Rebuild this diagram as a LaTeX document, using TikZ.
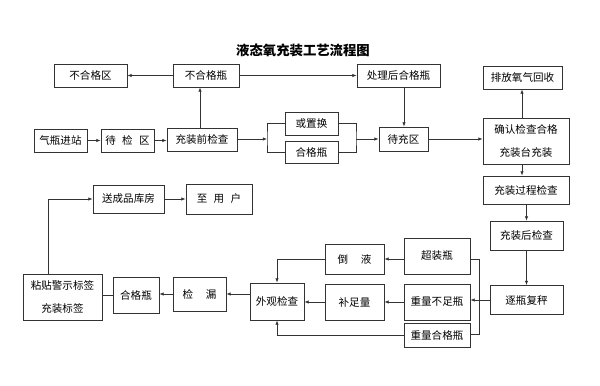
\documentclass[tikz,border=0pt]{standalone}
\usepackage{fontspec}
\newfontfamily\cjk{Noto Sans CJK SC}
\usetikzlibrary{arrows.meta,positioning}

\begin{document}
\begin{tikzpicture}[x=0.025cm, y=-0.025cm,
    box/.style={draw=black!80, line width=0.6pt, minimum width=1.325cm, minimum height=0.575cm, inner sep=1pt, align=center, font=\cjk\fontsize{7.5}{9}\selectfont},
    arr/.style={-{Latex[length=3pt, width=2.4pt]}, line width=0.5pt, black!80},
    ln/.style={line width=0.5pt, black!80},
    ttl/.style={font=\cjk\bfseries\fontsize{9.5}{11}\selectfont}
]
\useasboundingbox (0,0) rectangle (600,386);
\node[ttl] (title) at (303,50) {液态氧充装工艺流程图};

% top row
\node[box, minimum width=1.825cm] (nghq) at (90.5,75.5) {不合格区};
\node[box, minimum width=1.65cm] (nghp) at (206,75.5) {不合格瓶};
\node[box, minimum width=2.075cm] (clh) at (398.5,75.5) {处理后合格瓶};
\node[box, minimum width=1.975cm] (pf) at (522.5,77.5) {排放氧气回收};

% second row
\node[box] (jz) at (60.5,140.5) {气瓶进站};
\node[box] (djq) at (127.5,140.5) {待\hspace{0.6em}检\hspace{0.6em}区};
\node[box, minimum width=1.75cm] (cqj) at (202,139.5) {充装前检查};
\node[box] (hzh) at (311.5,123.5) {或置换};
\node[box, minimum height=0.55cm] (hgp) at (311.5,152) {合格瓶};
\node[box, minimum width=1.225cm, minimum height=0.6cm] (dcq) at (403.5,139) {待充区};
\node[box, minimum width=2.15cm, minimum height=1.15cm] (qr) at (526,141) {确认检查合格\\[7pt]充装台充装};

% right column
\node[box, minimum width=2.15cm, minimum height=0.7cm] (gc) at (526,190) {充装过程检查};
\node[box, minimum width=1.825cm, minimum height=0.725cm] (hj) at (526.5,235.5) {充装后检查};
\node[box, minimum width=1.825cm, minimum height=0.725cm] (fc) at (526.5,300) {逐瓶复秤};

% weighing results
\node[box, minimum width=1.65cm, minimum height=0.9cm] (cz) at (437,256) {超装瓶};
\node[box, minimum width=1.65cm, minimum height=0.9cm] (bz) at (437,302) {重量不足瓶};
\node[box, minimum width=1.65cm, minimum height=0.6cm] (hg) at (437,335) {重量合格瓶};
\node[box, minimum width=1.475cm, minimum height=0.75cm] (dy) at (354.5,259) {倒\hspace{1.2em}液};
\node[box, minimum width=1.475cm, minimum height=0.9cm] (bzl) at (354.5,302) {补足量};
\node[box, minimum width=1.35cm, minimum height=0.925cm] (wg) at (277,301.5) {外观检查};
\node[box, minimum height=0.85cm] (jl) at (199.5,294) {检\hspace{1.2em}漏};
\node[box, minimum width=1.15cm, minimum height=0.9cm] (hgp2) at (136,295) {合格瓶};
\node[box, minimum width=1.975cm, minimum height=1.15cm] (zt) at (62.5,297) {粘贴警示标签\\[7pt]充装标签};

% storage
\node[box, minimum width=1.775cm, minimum height=0.7cm] (sc) at (128.5,199) {送成品库房};
\node[box, minimum width=1.65cm, minimum height=0.75cm] (yh) at (219,199) {至\hspace{0.6em}用\hspace{0.6em}户};

% branch points
\coordinate (bl) at (267,139);
\coordinate (br) at (356,139);
\coordinate (wt) at (479,259);
\coordinate (wb) at (479,334);

% connectors
\draw[arr] (nghp) -- (nghq);
\draw[arr] (nghp) -- (clh);
\draw[arr] (cqj.north -| 200,0) -- (nghp.south -| 200,0);
\draw[arr] (jz) -- (djq);
\draw[arr] (djq.east) -- (djq.east -| cqj.west);
\draw[arr] (cqj.east |- bl) -- (bl);
\draw[ln] (hzh.west) -| (bl) |- (hgp.west);
\draw[ln] (hzh.east) -| (br) |- (hgp.east);
\draw[arr] (br) -- (br -| dcq.west);
\draw[arr] (clh.south -| 404,0) -- (dcq.north -| 404,0);
\draw[arr] (dcq.east) -- (dcq.east -| qr.west);
\draw[arr] (qr.north -| 522,0) -- (pf.south -| 522,0);
\draw[arr] (qr.south -| 522,0) -- (gc.north -| 522,0);
\draw[arr] (gc.south -| hj) -- (hj.north);
\draw[arr] (hj) -- (fc);
\draw[arr] (fc.west) -- (fc.west -| bz.east);
\draw[ln] (cz.east |- wt) -- (wt) -- (wb) -- (hg.east |- wb);
\draw[arr] (cz.west |- dy) -- (dy.east);
\draw[arr] (bz) -- (bzl);
\draw[arr] (bzl) -- (bzl.west -| wg.east);
\draw[arr] (dy.west) -| (wg.north);
\draw[arr] (hg.west) -| (wg.south);
\draw[arr] (wg.west |- jl) -- (jl.east);
\draw[arr] (jl.west) -- (jl.west -| hgp2.east);
\draw[ln] (hgp2.west) -- (hgp2.west -| zt.east);
\draw[arr] ([xshift=-0.36cm]zt.north) |- (sc.west);
\draw[arr] (sc) -- (yh);
\end{tikzpicture}
\end{document}
